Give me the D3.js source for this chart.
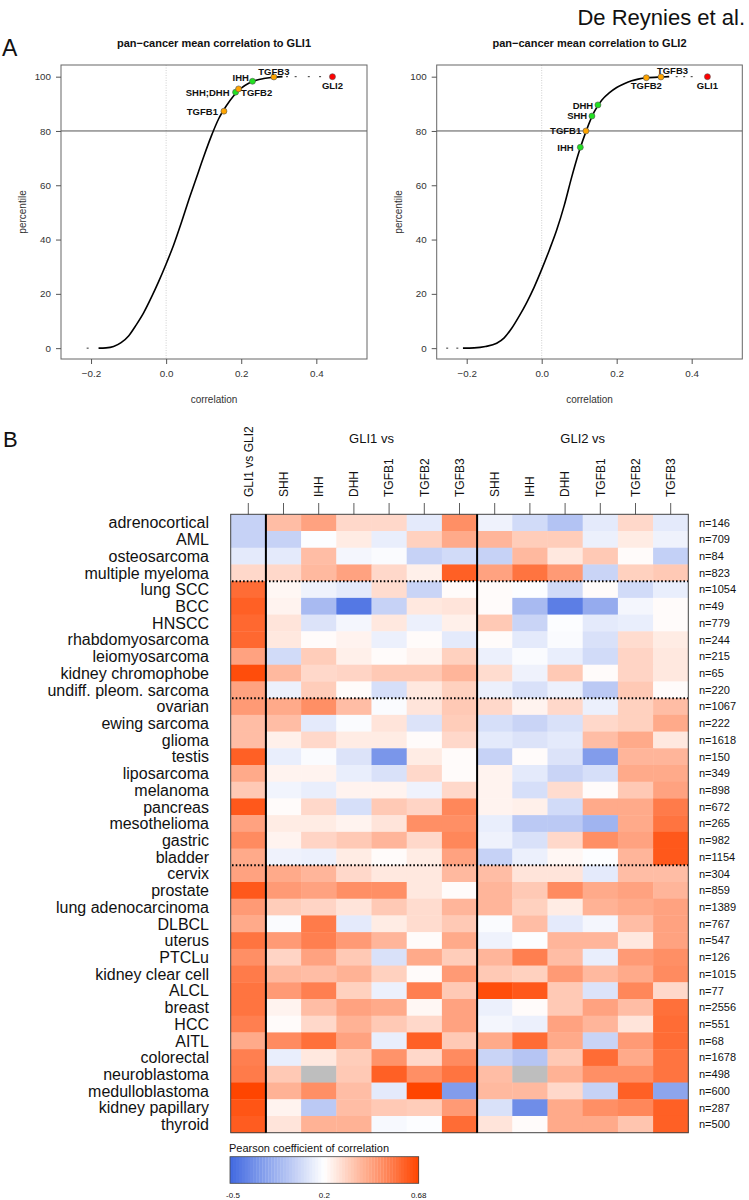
<!DOCTYPE html>
<html><head><meta charset="utf-8">
<script src="https://cdn.jsdelivr.net/npm/d3@7"></script>
<style>body{margin:0;background:#fff} svg{display:block;font-family:"Liberation Sans",Arial,Helvetica,sans-serif}</style>
</head><body><svg id="c" width="749" height="1200"></svg>
<script>
// ---------- DATA: panel A ----------
const gli1Curve = [[-0.18,0],[-0.16,0.1],[-0.14,0.6],[-0.12,2],[-0.10,4.5],[-0.08,8.5],[-0.06,13],[-0.04,18.5],[-0.02,24.5],[0.0,31],[0.02,38],[0.04,46],[0.06,54.5],[0.08,62.5],[0.10,70.5],[0.12,78],[0.14,84.5],[0.16,89.2],[0.18,93],[0.20,95.8],[0.22,97.6],[0.24,98.7],[0.26,99.3],[0.28,99.7],[0.31,100]];
const gli2Curve = [[-0.21,0],[-0.18,0.1],[-0.15,0.6],[-0.12,1.8],[-0.10,3.8],[-0.08,7.3],[-0.06,11.8],[-0.04,16.8],[-0.02,22.5],[0.0,29],[0.02,36],[0.04,43.5],[0.06,52.5],[0.08,63],[0.10,72.5],[0.12,80.5],[0.14,87],[0.16,91.3],[0.18,94],[0.20,96],[0.22,97.4],[0.24,98.5],[0.26,99.2],[0.28,99.6],[0.32,99.9],[0.34,100]];
const gli1Tail = [[-0.209,0],[0.322,100],[0.345,100],[0.38,100],[0.41,100]];
const gli2Tail = [[-0.252,0],[-0.225,0],[0.36,100],[0.38,100],[0.40,100]];
const gli1Genes = ["TGFB1","SHH;DHH","TGFB2","IHH","TGFB3","GLI2"];
const gli1GeneX = [0.154,0.185,0.193,0.230,0.287,0.443];
const gli1GeneP = [87.3,94.3,95.5,98.3,99.9,100];
const gli1GeneType = ["TGFB","HH","TGFB","HH","TGFB","GLI"];
const gli2Genes = ["IHH","TGFB1","SHH","DHH","TGFB2","TGFB3","GLI1"];
const gli2GeneX = [0.103,0.118,0.134,0.150,0.279,0.318,0.442];
const gli2GeneP = [74.0,80.0,85.5,89.6,99.6,99.9,100];
const gli2GeneType = ["HH","TGFB","HH","HH","TGFB","TGFB","GLI"];
const xTicks = [-0.2,0.0,0.2,0.4];
const yTicks = [0,20,40,60,80,100];
const percentileCut = 80;

// ---------- DATA: panel B ----------
const cancers = ["adrenocortical","AML","osteosarcoma","multiple myeloma","lung SCC","BCC","HNSCC","rhabdomyosarcoma","leiomyosarcoma","kidney chromophobe","undiff. pleom. sarcoma","ovarian","ewing sarcoma","glioma","testis","liposarcoma","melanoma","pancreas","mesothelioma","gastric","bladder","cervix","prostate","lung adenocarcinoma","DLBCL","uterus","PTCLu","kidney clear cell","ALCL","breast","HCC","AITL","colorectal","neuroblastoma","medulloblastoma","kidney papillary","thyroid"];
const nSamples = [146,709,84,823,1054,49,779,244,215,65,220,1067,222,1618,150,349,898,672,265,982,1154,304,859,1389,767,547,126,1015,77,2556,551,68,1678,498,600,287,500];
const groupBreaks = ["lung SCC","ovarian","cervix"];
const colLabels = ["GLI1 vs GLI2","SHH","IHH","DHH","TGFB1","TGFB2","TGFB3","SHH","IHH","DHH","TGFB1","TGFB2","TGFB3"];
const groupTitles = ["GLI1 vs","GLI2 vs"];
const gli1VsGli2 = [-0.01,-0.01,0.10,0.30,0.58,0.61,0.59,0.59,0.44,0.66,0.44,0.46,0.37,0.37,0.61,0.42,0.34,0.63,0.44,0.50,0.42,0.44,0.63,0.46,0.42,0.56,0.49,0.54,0.56,0.56,0.53,0.42,0.53,0.54,0.68,0.64,0.62];
// columns: SHH, IHH, DHH, TGFB1, TGFB2, TGFB3
const gli1Vs = [
[0.37,0.44,0.30,0.30,0.10,0.49],
[-0.01,0.19,0.25,0.12,0.32,0.42],
[0.10,0.37,0.16,0.18,-0.01,0.03],
[0.30,0.38,0.44,0.30,0.24,0.61],
[0.22,0.14,0.10,0.29,0.00,0.21],
[0.23,-0.12,-0.43,-0.01,0.26,0.27],
[0.27,0.07,0.16,0.26,0.13,0.24],
[0.26,0.21,0.23,0.13,0.21,0.10],
[0.03,0.33,0.24,0.21,0.23,0.32],
[0.38,0.30,0.31,0.34,0.34,0.39],
[0.13,0.33,0.21,0.05,0.26,0.32],
[0.42,0.49,0.37,0.18,0.27,0.34],
[0.37,0.10,0.18,0.27,0.07,0.33],
[0.24,0.30,0.25,0.25,0.21,0.30],
[0.12,0.18,0.07,-0.29,0.25,0.21],
[0.23,0.23,0.12,0.06,0.30,0.21],
[0.15,0.12,0.23,0.23,0.14,0.30],
[0.21,0.30,0.05,0.34,0.31,0.51],
[0.25,0.25,0.23,0.27,0.49,0.49],
[0.23,0.31,0.34,0.39,0.30,0.51],
[0.14,0.13,0.25,0.21,0.25,0.44],
[0.42,0.39,0.30,0.26,0.26,0.38],
[0.46,0.44,0.49,0.49,0.26,0.21],
[0.33,0.31,0.27,0.34,0.29,0.39],
[0.18,0.54,0.10,0.25,0.29,0.34],
[0.46,0.53,0.46,0.39,0.21,0.42],
[0.31,0.44,0.34,0.06,0.42,0.33],
[0.38,0.37,0.40,0.32,0.21,0.46],
[0.46,0.53,0.32,0.13,0.53,0.34],
[0.23,0.37,0.44,0.42,0.22,0.44],
[0.21,0.30,0.40,0.34,0.30,0.44],
[0.50,0.57,0.44,0.12,0.61,0.34],
[0.12,0.26,0.33,0.48,0.30,0.50],
[0.34,null,0.34,0.61,0.49,0.56],
[0.40,0.49,0.37,0.10,0.68,-0.26],
[0.23,-0.05,0.37,0.34,0.33,0.46],
[0.27,0.40,0.40,0.17,0.19,0.58]];
const gli2Vs = [
[0.14,0.03,-0.08,0.10,0.30,0.10],
[0.39,0.33,0.33,0.13,0.25,0.14],
[-0.01,0.38,0.26,0.34,0.21,-0.02],
[0.44,0.56,0.46,0.00,0.32,0.34],
[0.21,0.19,0.03,0.21,0.03,0.12],
[0.21,-0.12,-0.40,-0.19,0.16,0.21],
[0.34,0.00,0.19,0.10,0.12,0.21],
[0.21,0.10,0.18,0.06,0.29,0.25],
[0.13,0.18,0.12,0.03,0.31,0.26],
[0.29,0.14,0.34,0.21,0.31,0.26],
[0.13,0.06,0.13,-0.05,0.34,0.21],
[0.30,0.23,0.30,0.13,0.32,0.37],
[0.05,0.00,0.06,0.30,0.32,0.42],
[0.10,0.07,0.10,0.37,0.42,0.26],
[-0.01,0.21,0.07,-0.26,0.39,0.39],
[0.23,0.10,0.00,0.05,0.42,0.42],
[0.23,0.05,0.29,0.21,0.34,0.44],
[0.23,0.24,0.03,0.42,0.42,0.54],
[0.12,-0.05,-0.05,-0.15,0.42,0.56],
[0.14,0.06,0.30,0.49,0.44,0.63],
[-0.01,0.13,0.22,0.19,0.39,0.63],
[0.37,0.27,0.27,0.10,0.37,0.37],
[0.39,0.34,0.50,0.42,0.44,0.39],
[0.39,0.32,0.25,0.40,0.42,0.44],
[0.18,0.37,0.10,0.16,0.37,0.44],
[0.14,0.19,0.39,0.39,0.26,0.44],
[0.39,0.53,0.37,0.12,0.46,0.49],
[0.34,0.32,0.46,0.38,0.42,0.50],
[0.66,0.63,0.34,0.07,0.51,0.30],
[0.13,0.21,0.34,0.44,0.37,0.57],
[0.16,0.13,0.44,0.39,0.27,0.58],
[0.42,0.58,0.42,0.00,0.46,0.58],
[0.00,-0.07,0.34,0.58,0.42,0.56],
[0.37,null,0.40,0.49,0.49,0.56],
[0.38,0.38,0.30,-0.01,0.61,-0.22],
[0.06,-0.33,0.42,0.49,0.51,0.61],
[0.27,0.21,0.42,0.42,0.35,0.61]];
const legendTicks = [-0.5,0.2,0.68];
const legendTickLabels = ["-0.5","0.2","0.68"];

// ---------- DRAW ----------
const svg = d3.select("#c");
const typeColor = {HH:"#22e022", TGFB:"#ffa500", GLI:"#ff0000"};

svg.append("text").attr("x",745).attr("y",25).attr("text-anchor","end")
  .attr("font-size",22).attr("fill","#111").text("De Reynies et al.");
svg.append("text").attr("x",2).attr("y",56).attr("font-size",23).attr("fill","#111").text("A");
svg.append("text").attr("x",3).attr("y",447).attr("font-size",22).attr("fill","#111").text("B");

function panel(cfg){
  const x = d3.scaleLinear().domain([-0.28,0.535]).range([cfg.left,cfg.right]);
  const y = d3.scaleLinear().domain([-4,104.3]).range([359,65]);
  const g = svg.append("g");
  g.append("text").attr("x",(cfg.left+cfg.right)/2).attr("y",47).attr("text-anchor","middle")
    .attr("font-size",11).attr("font-weight","bold").attr("fill","#111").text(cfg.title);
  g.append("line").attr("x1",x(0)).attr("x2",x(0)).attr("y1",65).attr("y2",359)
    .attr("stroke","#bbb").attr("stroke-width",0.7).attr("stroke-dasharray","1,1.5");
  g.append("line").attr("x1",cfg.left).attr("x2",cfg.right).attr("y1",y(percentileCut)).attr("y2",y(percentileCut))
    .attr("stroke","#555").attr("stroke-width",1);
  g.append("rect").attr("x",cfg.left).attr("y",65).attr("width",cfg.right-cfg.left).attr("height",294)
    .attr("fill","none").attr("stroke","#666").attr("stroke-width",1);
  const ax = d3.axisBottom(x).tickValues(xTicks).tickSize(5).tickPadding(6).tickFormat(d3.format(".1f"));
  const gx = g.append("g").attr("transform","translate(0,359)").call(ax);
  const ay = d3.axisLeft(y).tickValues(yTicks).tickSize(5).tickPadding(5);
  const gy = g.append("g").attr("transform",`translate(${cfg.left},0)`).call(ay);
  [gx,gy].forEach(a=>{
    a.select(".domain").remove();
    a.selectAll("line").attr("stroke","#555");
    a.selectAll("text").attr("font-size",9.8).attr("fill","#333").attr("font-family","Liberation Sans, Arial, sans-serif");
  });
  gx.selectAll("text").text(d=> d<0 ? "\u2212"+Math.abs(d).toFixed(1) : d.toFixed(1));
  g.append("text").attr("transform",`translate(${cfg.ylabX},212) rotate(-90)`).attr("text-anchor","middle")
    .attr("dy","0.35em").attr("font-size",10).attr("fill","#333").text("percentile");
  g.append("text").attr("x",(cfg.left+cfg.right)/2).attr("y",403).attr("text-anchor","middle")
    .attr("font-size",10).attr("fill","#333").text("correlation");
  const line = d3.line().x(d=>x(d[0])).y(d=>y(d[1])).curve(d3.curveMonotoneX);
  g.append("path").attr("d",line(cfg.curve)).attr("fill","none").attr("stroke","#000").attr("stroke-width",1.6);
  g.selectAll(".tail").data(cfg.tail).join("line")
    .attr("x1",d=>x(d[0])-1).attr("x2",d=>x(d[0])+1).attr("y1",d=>y(d[1])).attr("y2",d=>y(d[1]))
    .attr("stroke","#333").attr("stroke-width",1);
  cfg.genes.forEach((gn,i)=>{
    const px = x(cfg.gx[i]), py = y(cfg.gp[i]);
    g.append("circle").attr("cx",px).attr("cy",py).attr("r",3)
      .attr("fill",typeColor[cfg.gt[i]]).attr("stroke","#555").attr("stroke-width",0.6);
    const lp = cfg.lab[gn];
    g.append("text").attr("x",px+lp[1]).attr("y",py+lp[2]).attr("dy","0.35em").attr("text-anchor",lp[0])
      .attr("font-size",9.5).attr("font-weight","bold").attr("fill","#111").text(gn);
  });
}
panel({left:61,right:367,title:"pan\u2212cancer mean correlation to GLI1",ylabX:22,curve:gli1Curve,tail:gli1Tail,
  genes:gli1Genes,gx:gli1GeneX,gp:gli1GeneP,gt:gli1GeneType,
  lab:{"TGFB1":["end",-6,0.5],"SHH;DHH":["end",-6,0.3],"TGFB2":["start",2.5,3.7],"IHH":["end",-3.5,-3.6],"TGFB3":["middle",0,-5.5],"GLI2":["middle",0,8.7]}});
panel({left:436.7,right:742.3,title:"pan\u2212cancer mean correlation to GLI2",ylabX:398,curve:gli2Curve,tail:gli2Tail,
  genes:gli2Genes,gx:gli2GeneX,gp:gli2GeneP,gt:gli2GeneType,
  lab:{"IHH":["end",-6.6,0.4],"TGFB1":["end",-4.7,0],"SHH":["end",-4.7,0],"DHH":["end",-4.7,0.3],"TGFB2":["middle",0,7.6],"TGFB3":["start",-4,-6.3],"GLI1":["middle",0,8.7]}});

// ---------- heatmap ----------
const color = d3.scaleLinear().domain([-0.5,0.2,0.68]).range(["#4169e1","#ffffff","#ff4500"]).clamp(true);
const hx = d3.scaleBand().domain(d3.range(colLabels.length)).range([230.7,688.3]);
const hy = d3.scaleBand().domain(cancers).range([514.3,1132.7]);
const cells = [];
cancers.forEach((c,r)=>{
  const vals = [gli1VsGli2[r]].concat(gli1Vs[r],gli2Vs[r]);
  vals.forEach((v,j)=>cells.push({c,j,v}));
});
const hg = svg.append("g");
hg.selectAll("rect.cell").data(cells).join("rect")
  .attr("x",d=>hx(d.j)).attr("y",d=>hy(d.c)).attr("width",hx.bandwidth()+0.4).attr("height",hy.bandwidth()+0.4)
  .attr("fill",d=>d.v==null ? "#bebebe" : color(d.v));
hg.append("rect").attr("x",230.7).attr("y",514.3).attr("width",688.3-230.7).attr("height",1132.7-514.3)
  .attr("fill","none").attr("stroke","#444").attr("stroke-width",1);
[1,7].forEach(j=>{
  hg.append("line").attr("x1",hx(j)).attr("x2",hx(j)).attr("y1",514.3).attr("y2",1132.7)
    .attr("stroke","#000").attr("stroke-width",2);
});
groupBreaks.forEach(b=>{
  hg.append("line").attr("x1",232).attr("x2",688).attr("y1",hy(b)).attr("y2",hy(b))
    .attr("stroke","#000").attr("stroke-width",2).attr("stroke-dasharray","1.6,2.1");
});
colLabels.forEach((lab,j)=>{
  const cx = hx(j)+hx.bandwidth()/2;
  hg.append("line").attr("x1",cx).attr("x2",cx).attr("y1",503).attr("y2",514.3).attr("stroke","#333").attr("stroke-width",0.8);
  hg.append("text").attr("transform",`translate(${cx+4.3},497) rotate(-90)`).attr("font-size",12).attr("fill","#111").text(lab);
});
groupTitles.forEach((t,i)=>{
  const a = i===0 ? hx(1) : hx(7), b = i===0 ? hx(7) : 688.3;
  hg.append("text").attr("x",(a+b)/2).attr("y",443).attr("text-anchor","middle").attr("font-size",13).attr("fill","#111").text(t);
});
hg.selectAll("text.row").data(cancers).join("text").attr("class","row")
  .attr("x",209).attr("y",d=>hy(d)+hy.bandwidth()/2).attr("dy","0.36em").attr("text-anchor","end")
  .attr("font-size",16).attr("fill","#111").text(d=>d);
hg.selectAll("text.n").data(cancers).join("text").attr("class","n")
  .attr("x",699).attr("y",d=>hy(d)+hy.bandwidth()/2).attr("dy","0.36em")
  .attr("font-size",11).attr("fill","#111").text((d,i)=>"n="+nSamples[i]);

// ---------- legend ----------
const lx = d3.scaleLinear().domain(legendTicks).range([230,324.35,418.7]);
svg.append("text").attr("x",229).attr("y",1152).attr("font-size",11).attr("fill","#111").text("Pearson coefficient of correlation");
const nStrip = 64, sw = (418.7-230)/nStrip;
svg.selectAll("rect.leg").data(d3.range(nStrip)).join("rect")
  .attr("x",i=>230+i*sw).attr("y",1156.7).attr("width",sw+0.3).attr("height",26.6)
  .attr("fill",i=>color(lx.invert(230+(i+0.5)*sw)));
svg.append("rect").attr("x",230).attr("y",1156.7).attr("width",188.7).attr("height",26.6)
  .attr("fill","none").attr("stroke","#444").attr("stroke-width",0.8);
legendTicks.forEach((t,i)=>{
  svg.append("text").attr("x",lx(t)+(i===0?3:0)).attr("y",1198).attr("text-anchor","middle")
    .attr("font-size",8).attr("fill","#111").text(legendTickLabels[i]);
});
</script></body></html>
